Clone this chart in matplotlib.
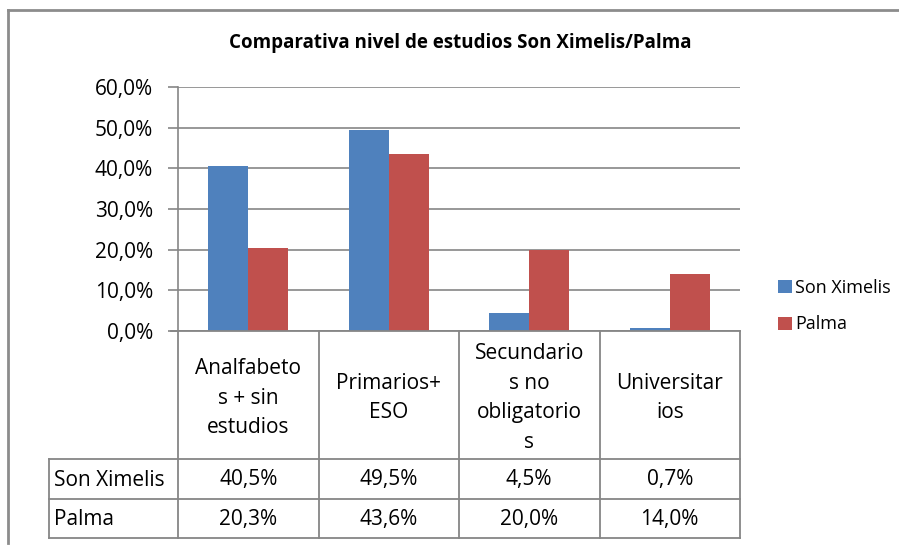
import matplotlib
matplotlib.use("Agg")
import matplotlib.pyplot as plt
from matplotlib.ticker import FuncFormatter
from matplotlib.lines import Line2D
import numpy as np

plt.rcParams['font.family'] = ['Open Sans', 'DejaVu Sans']

title = "Comparativa nivel de estudios Son Ximelis/Palma"
categories = ["Analfabeto\ns + sin\nestudios", "Primarios+\nESO",
              "Secundario\ns no\nobligatorio\ns", "Universitar\nios"]
series_names = ["Son Ximelis", "Palma"]
son_ximelis = [40.5, 49.5, 4.5, 0.7]
palma = [20.3, 43.6, 20.0, 14.0]
yticks = [0, 10, 20, 30, 40, 50, 60]
colors = ["#4F81BD", "#C0504D"]
grid_col = "#868686"

W, H = 899, 546
fig = plt.figure(figsize=(W / 100, H / 100), dpi=100)

px0, px1 = 178, 740
py0, py1 = 331, 87
ax = fig.add_axes([px0 / W, 1 - py0 / H, (px1 - px0) / W, (py0 - py1) / H])

n = len(categories)
x = np.arange(n)
bw = 1 / 3.5
ax.bar(x - bw / 2, son_ximelis, width=bw, color=colors[0], label=series_names[0], zorder=3)
ax.bar(x + bw / 2, palma, width=bw, color=colors[1], label=series_names[1], zorder=3)
ax.set_xlim(-0.5, n - 0.5)
ax.set_ylim(0, 60)
ax.set_yticks(yticks)
ax.yaxis.set_major_formatter(FuncFormatter(lambda v, p: f"{v:.1f}%".replace(".", ",")))
ax.tick_params(axis='y', length=7, width=1.2, color=grid_col, labelsize=15, pad=11)
ax.set_xticks([])
ax.grid(axis='y', color=grid_col, linewidth=1.2, zorder=0)
for s in ["top", "right", "bottom"]:
    ax.spines[s].set_visible(False)
ax.spines['left'].set_color(grid_col)
ax.spines['left'].set_linewidth(1.2)

leg = ax.legend(loc="center left", bbox_to_anchor=(771 / W, 1 - 306 / H),
                bbox_transform=fig.transFigure, frameon=False, fontsize=13,
                handlelength=0.75, handleheight=0.75, handletextpad=0.2,
                labelspacing=1.05, borderaxespad=0)

ov = fig.add_axes([0, 0, 1, 1])
ov.set_xlim(0, W)
ov.set_ylim(H, 0)
ov.axis("off")
ov.patch.set_alpha(0)

lw = 1.3
ov.add_line(Line2D([8, 8], [10, 543], color="#8c8c8c", lw=2))
ov.add_line(Line2D([8, W], [10, 10], color="#8c8c8c", lw=2))

ov.text(460, 43, title, ha="center", va="center", fontsize=13.5, fontweight="bold")

col_edges = [px0 + i * (px1 - px0) / n for i in range(n + 1)]
row_top, head_bot, r1_bot, r2_bot = 331, 459, 499, 538
left = 49
for xe in col_edges:
    ov.add_line(Line2D([xe, xe], [row_top, r2_bot], color=grid_col, lw=lw))
ov.add_line(Line2D([left, left], [head_bot, r2_bot], color=grid_col, lw=lw))
ov.add_line(Line2D([px0 - 7, px1], [row_top, row_top], color=grid_col, lw=lw))
for yy in [head_bot, r1_bot, r2_bot]:
    ov.add_line(Line2D([left, px1], [yy, yy], color=grid_col, lw=lw))

for i, c in enumerate(categories):
    cx = (col_edges[i] + col_edges[i + 1]) / 2
    ov.text(cx, (row_top + head_bot) / 2 + 3, c, ha="center", va="center",
            fontsize=15, linespacing=1.56)

rows = [(series_names[0], son_ximelis), (series_names[1], palma)]
row_centers = [(head_bot + r1_bot) / 2 + 1, (r1_bot + r2_bot) / 2 + 1]
for (name, vals), yc in zip(rows, row_centers):
    ov.text(left + 5, yc, name, ha="left", va="center", fontsize=15)
    for i, v in enumerate(vals):
        cx = (col_edges[i] + col_edges[i + 1]) / 2
        ov.text(cx, yc, f"{v:.1f}%".replace(".", ","), ha="center", va="center", fontsize=15)

fig.savefig("out.png", dpi=100, facecolor="white")
